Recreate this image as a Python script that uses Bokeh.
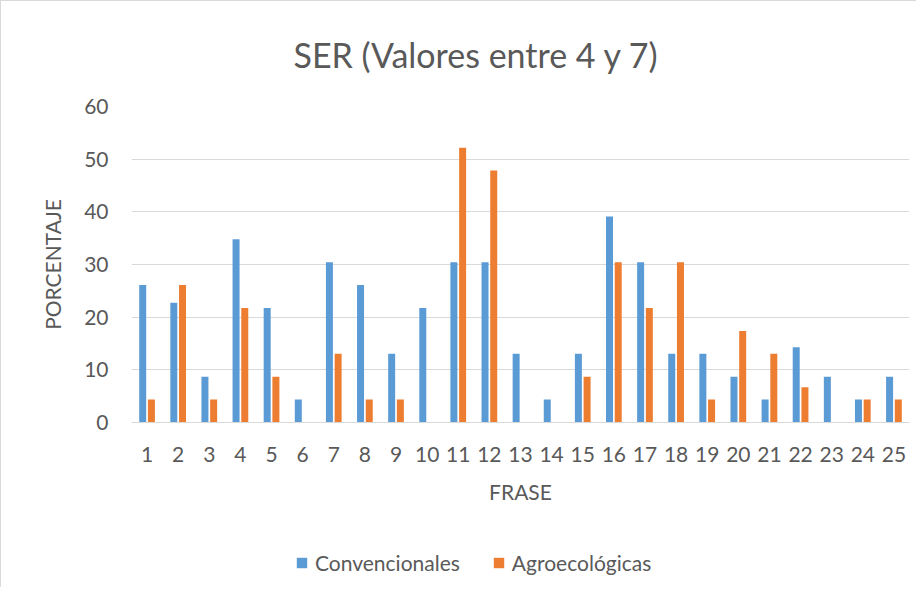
from bokeh.plotting import figure
from bokeh.layouts import column
from bokeh.models import FactorRange, Range1d, Legend, LegendItem, Title, ColumnDataSource
from bokeh.transform import dodge
from bokeh.embed import file_html
from bokeh.resources import INLINE

frases = [str(i) for i in range(1, 26)]
convencionales = [26.09, 22.73, 8.70, 34.78, 21.74, 4.35, 30.43, 26.09, 13.04, 21.74,
                  30.43, 30.43, 13.04, 4.35, 13.04, 39.13, 30.43, 13.04, 13.04, 8.70,
                  4.35, 14.29, 8.70, 4.35, 8.70]
agroecologicas = [4.35, 26.09, 4.35, 21.74, 8.70, 0, 13.04, 4.35, 4.35, 0,
                  52.17, 47.83, 0, 0, 8.70, 30.43, 21.74, 30.43, 4.35, 17.39,
                  13.04, 6.67, 0, 4.35, 4.35]
y_ticks = [0, 10, 20, 30, 40, 50, 60]
series_names = ["Convencionales", "Agroecológicas"]

titulo = "SER (Valores entre 4 y 7)"
FONT = "Lato"
GRAY = "#595959"
BLUE = "#5B9BD5"
ORANGE = "#ED7D31"
BORDER = "1px solid #d9d9d9"

src = ColumnDataSource(dict(frase=frases, conv=convencionales, agro=agroecologicas))

p = figure(width=916, height=540, x_range=FactorRange(factors=frases, range_padding=0),
           y_range=Range1d(0, 60), output_backend="svg", toolbar_location=None,
           min_border_left=130, min_border_right=8, min_border_top=105,
           min_border_bottom=119)
p.outline_line_color = None
p.styles = {"border-left": BORDER, "border-top": BORDER}

p.vbar(x=dodge("frase", -0.14, range=p.x_range), top="conv", width=0.225,
       source=src, fill_color=BLUE, line_color=None)
p.vbar(x=dodge("frase", 0.14, range=p.x_range), top="agro", width=0.225,
       source=src, fill_color=ORANGE, line_color=None)

t = Title(text=titulo, align="left", vertical_align="top", text_font_size="34px",
          text_font=FONT, text_font_style="normal", text_color=GRAY,
          offset=162, standoff=60)
p.add_layout(t, "above")

p.xgrid.grid_line_color = None
p.ygrid.grid_line_color = "#d9d9d9"
p.ygrid.grid_line_width = 1
p.yaxis.ticker = y_ticks

for ax in (p.xaxis, p.yaxis):
    ax.major_tick_line_color = None
    ax.minor_tick_line_color = None
    ax.major_label_text_font = FONT
    ax.major_label_text_font_size = "21px"
    ax.major_label_text_color = GRAY
    ax.axis_label_text_font = FONT
    ax.axis_label_text_font_size = "21px"
    ax.axis_label_text_color = GRAY
    ax.axis_label_text_font_style = "normal"

p.yaxis.axis_line_color = None
p.yaxis.axis_label = "PORCENTAJE"
p.yaxis.major_label_standoff = 17
p.yaxis.axis_label_standoff = 16
p.xaxis.axis_line_color = "#d9d9d9"
p.xaxis.axis_label = "FRASE"
p.xaxis.major_label_standoff = 18
p.xaxis.axis_label_standoff = 14

# legend strip below the chart (same chart box)
leg = figure(width=916, height=47, x_range=Range1d(0, 1), y_range=Range1d(0, 1),
             output_backend="svg", toolbar_location=None,
             min_border_left=0, min_border_right=0, min_border_top=0,
             min_border_bottom=0)
leg.axis.visible = False
leg.grid.visible = False
leg.outline_line_color = None
leg.styles = {"border-left": BORDER}
# swatch renderers kept outside the visible range: only their legend swatches show
lr1 = leg.quad(left=[5], right=[6], bottom=[4], top=[5], fill_color=BLUE, line_color=None)
lr2 = leg.quad(left=[5], right=[6], bottom=[4], top=[5], fill_color=ORANGE, line_color=None)

legend = Legend(items=[LegendItem(label=series_names[0], renderers=[lr1]),
                       LegendItem(label=series_names[1], renderers=[lr2])],
                location=(164, 12), orientation="horizontal",
                glyph_width=13, glyph_height=13, label_height=13,
                label_text_font=FONT, label_text_font_size="21px",
                label_text_color=GRAY, label_standoff=7, spacing=32,
                padding=0, margin=0, border_line_color=None,
                background_fill_alpha=0)
leg.add_layout(legend, "center")

layout = column(p, leg, spacing=0)
open("out.html", "w").write(file_html(layout, INLINE))
